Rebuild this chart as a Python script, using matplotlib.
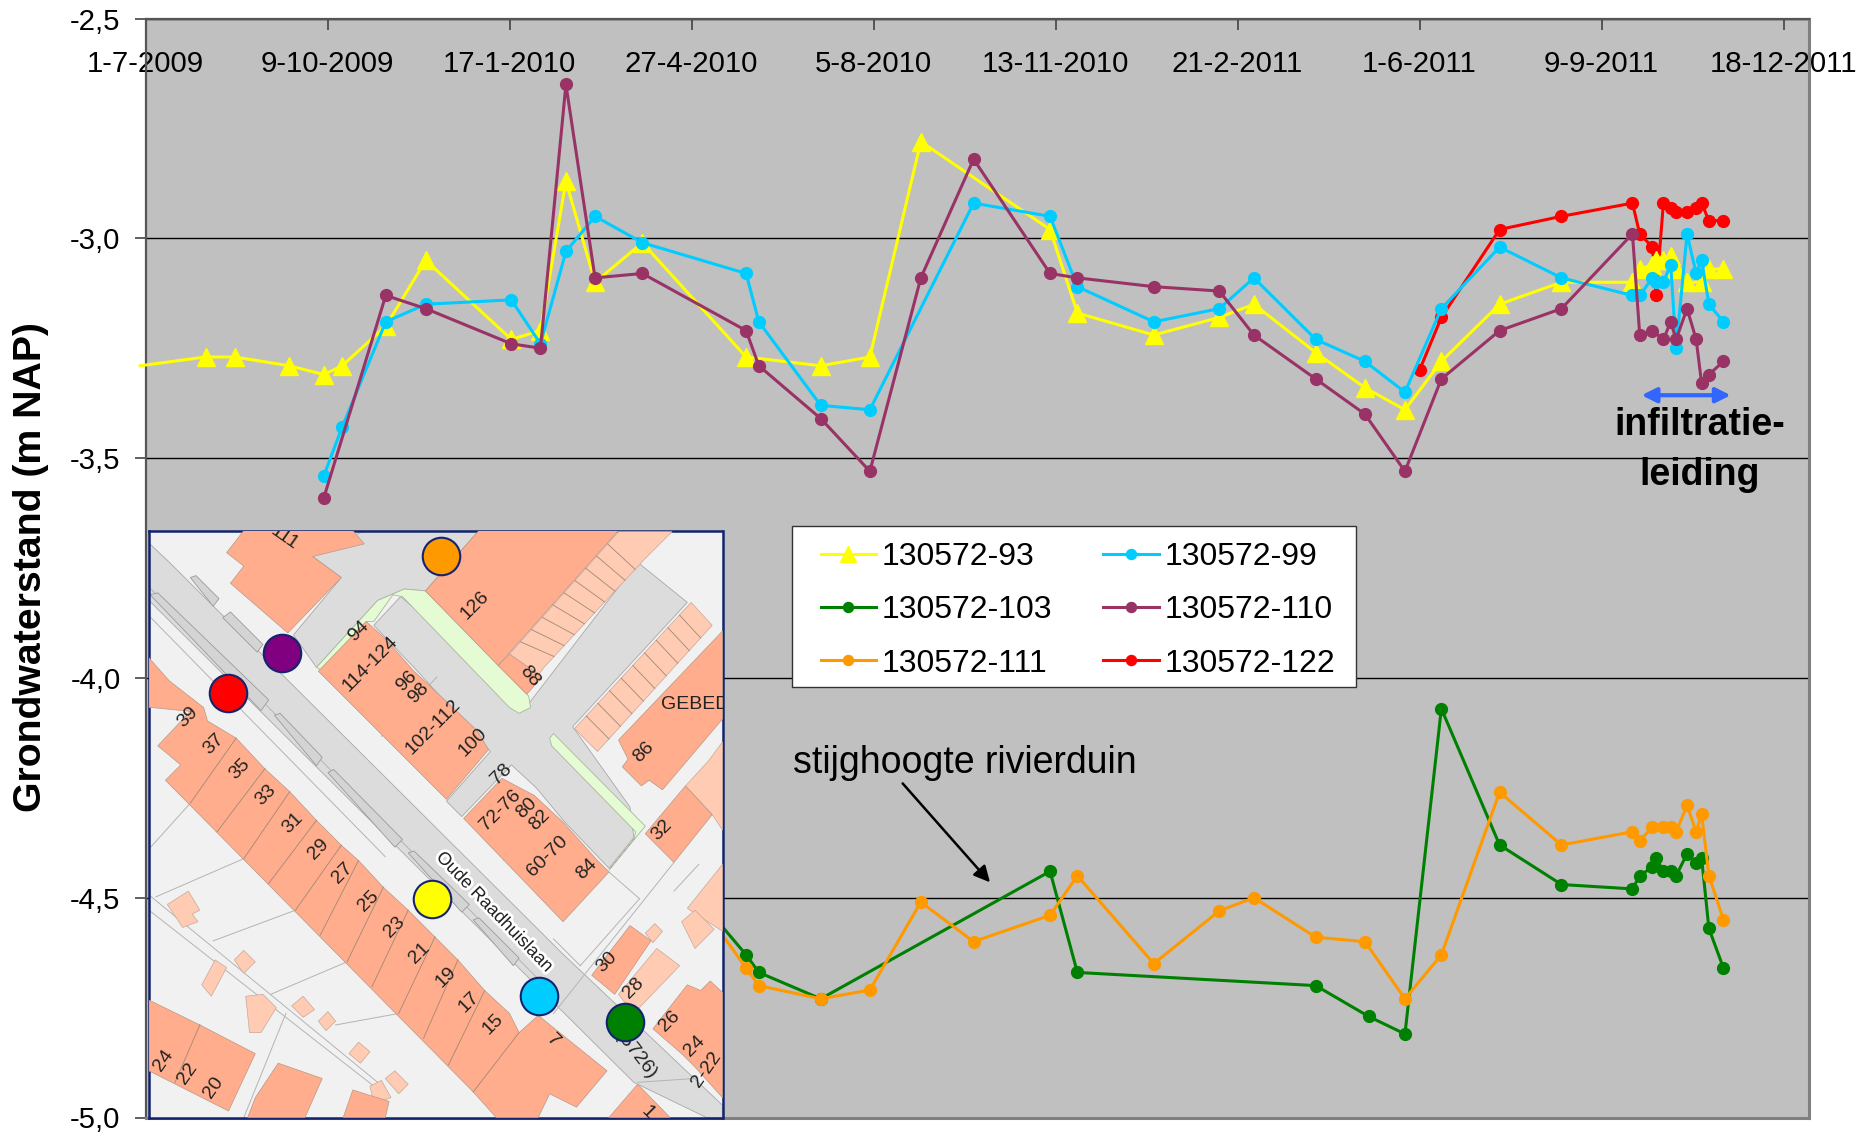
import numpy as np
import matplotlib
matplotlib.use("Agg")
import matplotlib.pyplot as plt
import matplotlib.patheffects as pe
from matplotlib.patches import Polygon, Rectangle

plt.rcParams['font.family'] = ['Liberation Sans', 'DejaVu Sans']

# meetreeksen: dagen na 1-7-2009 en grondwaterstand (m NAP)
dag_93 = [-3, 33, 49, 79, 98, 108, 132, 154, 201, 217, 231, 247, 273, 330, 371, 398, 426, 497, 512, 554, 590, 609, 643, 670, 692, 712, 744, 778, 817, 821, 828, 830, 834, 838, 841, 847, 855, 859, 867]
nap_93 = [-3.29, -3.27, -3.27, -3.29, -3.31, -3.29, -3.20, -3.05, -3.23, -3.21, -2.87, -3.10, -3.01, -3.27, -3.29, -3.27, -2.78, -2.98, -3.17, -3.22, -3.18, -3.15, -3.26, -3.34, -3.39, -3.28, -3.15, -3.10, -3.10, -3.07, -3.06, -3.05, -3.05, -3.04, -3.07, -3.10, -3.10, -3.07, -3.07]

dag_99 = [98, 108, 132, 154, 201, 217, 231, 247, 273, 330, 337, 371, 398, 455, 497, 512, 554, 590, 609, 643, 670, 692, 712, 744, 778, 817, 821, 828, 830, 834, 838, 841, 847, 852, 855, 859, 867]
nap_99 = [-3.54, -3.43, -3.19, -3.15, -3.14, -3.24, -3.03, -2.95, -3.01, -3.08, -3.19, -3.38, -3.39, -2.92, -2.95, -3.11, -3.19, -3.16, -3.09, -3.23, -3.28, -3.35, -3.16, -3.02, -3.09, -3.13, -3.13, -3.09, -3.10, -3.10, -3.06, -3.25, -2.99, -3.08, -3.05, -3.15, -3.19]

dag_103 = [273, 330, 337, 371, 497, 512, 643, 672, 692, 712, 744, 778, 817, 821, 828, 830, 834, 838, 841, 847, 852, 855, 859, 867]
nap_103 = [-4.35, -4.63, -4.67, -4.73, -4.44, -4.67, -4.70, -4.77, -4.81, -4.07, -4.38, -4.47, -4.48, -4.45, -4.43, -4.41, -4.44, -4.44, -4.45, -4.40, -4.42, -4.41, -4.57, -4.66]

dag_110 = [98, 132, 154, 201, 217, 231, 247, 273, 330, 337, 371, 398, 426, 455, 497, 512, 554, 590, 609, 643, 670, 692, 712, 744, 778, 817, 821, 828, 834, 838, 841, 847, 852, 855, 859, 867]
nap_110 = [-3.59, -3.13, -3.16, -3.24, -3.25, -2.65, -3.09, -3.08, -3.21, -3.29, -3.41, -3.53, -3.09, -2.82, -3.08, -3.09, -3.11, -3.12, -3.22, -3.32, -3.40, -3.53, -3.32, -3.21, -3.16, -2.99, -3.22, -3.21, -3.23, -3.19, -3.23, -3.16, -3.23, -3.33, -3.31, -3.28]

dag_111 = [273, 330, 337, 371, 398, 426, 455, 497, 512, 554, 590, 609, 643, 670, 692, 712, 744, 778, 817, 821, 828, 834, 838, 841, 847, 852, 855, 859, 867]
nap_111 = [-4.33, -4.66, -4.70, -4.73, -4.71, -4.51, -4.60, -4.54, -4.45, -4.65, -4.53, -4.50, -4.59, -4.60, -4.73, -4.63, -4.26, -4.38, -4.35, -4.37, -4.34, -4.34, -4.34, -4.35, -4.29, -4.35, -4.31, -4.45, -4.55]

dag_122 = [700, 712, 744, 778, 817, 821, 828, 830, 834, 838, 841, 847, 852, 855, 859, 867]
nap_122 = [-3.30, -3.18, -2.98, -2.95, -2.92, -2.99, -3.02, -3.13, -2.92, -2.93, -2.94, -2.94, -2.93, -2.92, -2.96, -2.96]

x_ticks = [0, 100, 200, 300, 400, 500, 600, 700, 800, 900]
x_labels = ['1-7-2009', '9-10-2009', '17-1-2010', '27-4-2010', '5-8-2010', '13-11-2010', '21-2-2011', '1-6-2011', '9-9-2011', '18-12-2011']
y_ticks = [-2.5, -3.0, -3.5, -4.0, -4.5, -5.0]
y_labels = ['-2,5', '-3,0', '-3,5', '-4,0', '-4,5', '-5,0']

# kaart (plaatje in de grafiek): coordinaten in pixels van de kaart
kaart_wegen = [
    [(22, 60), (75, 110), (1105, 1135), (1522, 1530), (1522, 1562), (1480, 1562), (1290, 1470), (22, 210)],
    [(585, 27), (885, 27), (745, 185), (690, 180), (620, 210), (460, 385), (400, 300), (525, 150), (450, 95)],
    [(680, 200), (1015, 480), (1300, 110), (1430, 215), (1130, 540), (1280, 750), (1290, 830), (1225, 910), (1110, 790), (1035, 700), (970, 640), (840, 775), (800, 735), (915, 605), (715, 385), (610, 275)],
]
kaart_parkeer = [
    [(25, 195), (45, 190), (335, 470), (315, 498)],
    [(130, 150), (145, 145), (205, 205), (190, 225)],
    [(215, 255), (235, 240), (320, 325), (305, 345)],
    [(350, 510), (365, 505), (475, 620), (460, 642)],
    [(490, 660), (505, 652), (685, 835), (665, 855)],
    [(700, 870), (715, 865), (860, 1005), (840, 1025)],
    [(870, 1045), (885, 1040), (990, 1145), (975, 1165)],
]
kaart_groen = [
    [(460, 385), (620, 210), (690, 180), (745, 185), (1015, 460), (1020, 490), (990, 505), (965, 490), (685, 200), (660, 195), (610, 265), (590, 265), (480, 395)],
    [(1080, 558), (1320, 800), (1225, 915), (1290, 835), (1295, 815), (1075, 590), (1070, 570)],
]
kaart_huizen = [
    [(270, 27), (555, 27), (585, 62), (450, 95), (525, 150), (385, 295), (235, 165), (270, 120), (225, 85)],
    [(885, 27), (1250, 27), (935, 380), (745, 185)],
    [(965, 350), (935, 380), (1010, 455), (1050, 410)],
    [(1250, 575), (1522, 290), (1522, 520), (1365, 705), (1330, 680), (1310, 695), (1260, 645), (1275, 625)],
    [(1320, 820), (1425, 695), (1495, 770), (1395, 895)],
    [(465, 395), (590, 265), (640, 310), (715, 395), (790, 465), (880, 550), (910, 600), (800, 730)],
    [(845, 780), (945, 675), (1030, 720), (1105, 790), (1195, 890), (1225, 920), (1105, 1050)],
    [(1180, 1190), (1280, 1060), (1335, 1100), (1240, 1240)],
    [(1340, 1330), (1430, 1215), (1465, 1230), (1490, 1205), (1522, 1235), (1522, 1510), (1450, 1430), (1415, 1395)],
    [(22, 360), (75, 420), (165, 490), (175, 525), (250, 570), (325, 650), (390, 710), (460, 785), (525, 850), (570, 890), (635, 960), (700, 1020), (770, 1090), (830, 1150), (900, 1230), (965, 1290), (990, 1340), (1040, 1295), (1220, 1440), (1140, 1535), (1070, 1500), (1040, 1562), (930, 1562), (870, 1495), (65, 680), (105, 640), (45, 590), (130, 500), (30, 490), (22, 490)],
    [(22, 1255), (155, 1320), (300, 1395), (230, 1545), (22, 1440)],
    [(280, 1562), (300, 1510), (360, 1420), (475, 1460), (430, 1562)],
    [(530, 1562), (555, 1490), (650, 1520), (640, 1562)],
    [(1225, 1562), (1300, 1475), (1385, 1562)],
]
kaart_licht = [
    [(965, 350), (1250, 30), (1390, 30), (1320, 100), (1055, 385), (1015, 440)],
    [(1135, 545), (1440, 215), (1495, 275), (1195, 605)],
    [(1425, 695), (1485, 630), (1522, 580), (1522, 810), (1495, 770)],
    [(1430, 1015), (1522, 900), (1522, 1075)],
    [(1415, 1050), (1450, 1020), (1500, 1070), (1450, 1120)],
    [(1250, 1240), (1350, 1120), (1410, 1165), (1290, 1290)],
    [(1320, 1080), (1345, 1055), (1365, 1075), (1340, 1105)],
    [(70, 1005), (125, 970), (155, 1020), (135, 1030), (150, 1050), (110, 1065)],
    [(160, 1215), (195, 1150), (225, 1170), (185, 1245)],
    [(245, 1150), (270, 1125), (300, 1155), (270, 1185)],
    [(275, 1245), (320, 1240), (355, 1275), (315, 1340), (285, 1340)],
    [(395, 1270), (425, 1245), (455, 1280), (425, 1300)],
    [(465, 1310), (490, 1285), (510, 1310), (485, 1335)],
    [(545, 1395), (570, 1365), (600, 1390), (575, 1420)],
    [(640, 1460), (665, 1440), (700, 1475), (675, 1500)],
    [(600, 1480), (630, 1465), (655, 1510), (610, 1525)],
]
kaart_lijnen = [
    [(22, 980), (620, 1470)], [(22, 1020), (610, 1480)], [(380, 1290), (270, 1562)],
    [(22, 250), (640, 880)], [(22, 175), (1090, 1250)], [(1080, 1095), (1150, 1165)],
    [(1305, 990), (1150, 1165)], [(1225, 920), (1305, 990)], [(1395, 895), (1080, 1290)],
    [(22, 860), (130, 740)], [(40, 985), (270, 885)], [(190, 1100), (405, 1020)],
    [(340, 1240), (540, 1155)], [(510, 1320), (675, 1290)], [(630, 565), (775, 410)],
    [(950, 890), (1030, 800)], [(1460, 900), (1395, 970)], [(1300, 1470), (1450, 1460)],
    [(130, 740), (250, 570)], [(200, 815), (325, 650)], [(270, 885), (390, 710)],
    [(335, 950), (460, 785)], [(405, 1020), (525, 850)], [(470, 1085), (570, 890)],
    [(540, 1155), (635, 960)], [(605, 1220), (700, 1020)], [(675, 1290), (770, 1090)],
    [(740, 1355), (830, 1150)], [(805, 1425), (900, 1230)], [(870, 1495), (990, 1340)],
    [(90, 1470), (155, 1320)],
]
kaart_teksten = [
    ('111', 375, 45, -35), ('126', 875, 222, 45), ('94', 570, 290, 45), ('114-124', 600, 375, 45),
    ('96', 697, 422, 45), ('98', 728, 452, 45), ('102-112', 765, 540, 45), ('100', 868, 580, 45),
    ('88', 1018, 408, -50), ('GEBED', 1450, 483, 0), ('86', 1315, 607, 45), ('78', 945, 665, 45),
    ('72-76', 942, 757, 45), ('80', 1010, 752, 45), ('82', 1045, 785, 45), ('60-70', 1063, 878, 45),
    ('84', 1168, 912, 45), ('32', 1362, 810, 45), ('39', 123, 515, 45), ('37', 192, 585, 45),
    ('35', 258, 652, 45), ('33', 328, 720, 45), ('31', 397, 793, 45), ('29', 465, 860, 45),
    ('27', 527, 923, 45), ('25', 595, 995, 45), ('23', 665, 1063, 45), ('21', 730, 1133, 45),
    ('19', 800, 1195, 45), ('17', 860, 1260, 45), ('15', 922, 1317, 45), ('7', 1080, 1360, -45),
    ('30', 1218, 1157, 45), ('28', 1290, 1225, 45), ('26', 1383, 1310, 45), ('24', 1450, 1375, 45),
    ('2-22', 1480, 1435, 55), ('24', 60, 1412, 55), ('22', 122, 1447, 55), ('20', 190, 1483, 55),
    ('1', 1325, 1550, -45), ('(5726)', 1295, 1400, -52),
]
put_x = [787, 370, 229, 762, 1042, 1268]
put_y = [94, 347, 452, 990, 1245, 1313]
put_kleur = ['#FF9900', '#800080', '#FF0000', '#FFFF00', '#00CCFF', '#008000']

fig = plt.figure(figsize=(18.7, 11.34), dpi=100)
ax = fig.add_axes([145.5/1870, (1134-1117.5)/1134, (1809-145.5)/1870, (1117.5-18.5)/1134])
ax.set_facecolor('#C0C0C0')
ax.set_xlim(0, 914)
ax.set_ylim(-5.0, -2.5)

ax.set_yticks(y_ticks)
ax.set_yticklabels(y_labels, fontsize=21.2)
ax.set_xticks(x_ticks)
ax.set_xticklabels(x_labels, fontsize=21.2)
ax.tick_params(axis='y', length=8, width=1.2, color='#444444', pad=10)
ax.tick_params(axis='x', direction='in', top=True, bottom=False, labeltop=True, labelbottom=False,
               length=8, width=1.2, color='#444444', pad=-43)
ax.grid(axis='y', color='black', lw=1)
ax.set_axisbelow(True)
for s in ['top', 'left']:
    ax.spines[s].set_color('#555555')
    ax.spines[s].set_linewidth(1.6)
for s in ['bottom', 'right']:
    ax.spines[s].set_color('#808080')
    ax.spines[s].set_linewidth(2.2)

lw = 2.2
ms = 8.5
l_93, = ax.plot(dag_93, nap_93, color='#FFFF00', lw=lw, marker='^', ms=13, markevery=(1, 1), clip_on=False, zorder=4, label='130572-93')
l_99, = ax.plot(dag_99, nap_99, color='#00CCFF', lw=lw, marker='o', ms=ms, zorder=5, label='130572-99')
l_103, = ax.plot(dag_103, nap_103, color='#008000', lw=lw, marker='o', ms=ms, zorder=3, label='130572-103')
l_110, = ax.plot(dag_110, nap_110, color='#993366', lw=lw, marker='o', ms=ms, zorder=6, label='130572-110')
l_111, = ax.plot(dag_111, nap_111, color='#FF9900', lw=lw, marker='o', ms=ms, zorder=3.5, label='130572-111')
l_122, = ax.plot(dag_122, nap_122, color='#FF0000', lw=lw, marker='o', ms=ms, zorder=3, label='130572-122')

# legenda met eigen kader, de rand is breder dan hoog
ax.add_patch(Rectangle((792/1870, 1-687/1134), 564/1870, 161/1134, transform=fig.transFigure,
                       fc='white', ec='#333333', lw=1, zorder=9))
leg = ax.legend(handles=[l_93, l_103, l_111, l_99, l_110, l_122], ncol=2, fontsize=23,
                loc='upper left', bbox_to_anchor=(820.5/1870, 1-542/1134), bbox_transform=fig.transFigure,
                borderaxespad=0, frameon=False, markerscale=0.85,
                handlelength=1.75, handletextpad=0.15, columnspacing=1.62, labelspacing=0.73, borderpad=0)
leg.set_zorder(10)

ax.text(356, -4.193, 'stijghoogte rivierduin', fontsize=27, va='center', ha='left', zorder=8)
ax.annotate('', xy=(464, -4.465), xytext=(416, -4.24), zorder=8,
            arrowprops=dict(arrowstyle='-|>', color='black', lw=1.8, mutation_scale=24, shrinkA=0, shrinkB=0))
ax.annotate('', xy=(871, -3.357), xytext=(822, -3.357), zorder=8,
            arrowprops=dict(arrowstyle='<|-|>', color='#3366FF', lw=3, mutation_scale=22, shrinkA=0, shrinkB=0))
ax.text(854, -3.424, 'infiltratie-', fontsize=27, fontweight='bold', ha='center', va='center', zorder=8)
ax.text(854, -3.538, 'leiding', fontsize=27, fontweight='bold', ha='center', va='center', zorder=8)

fig.text(31/1870, 1-567/1134, 'Grondwaterstand (m NAP)', fontsize=28.3, fontweight='bold',
         rotation=90, ha='center', va='center')

# de kaart
kaart = fig.add_axes([149/1870, (1134-1117.5)/1134, (722.5-149)/1870, (1117.5-530.5)/1134], zorder=5)
kaart.set_xlim(22, 1522)
kaart.set_ylim(1562, 27)
kaart.set_xticks([])
kaart.set_yticks([])
kaart.set_facecolor('#F1F1F1')
for s in kaart.spines.values():
    s.set_color('#14236E')
    s.set_linewidth(1.8)

for p in kaart_wegen:
    kaart.add_patch(Polygon(p, fc='#DCDCDC', ec='#A8A8A8', lw=0.6, zorder=1))
for p in kaart_parkeer:
    kaart.add_patch(Polygon(p, fc='#D4D4D4', ec='#9A9A9A', lw=0.6, zorder=2))
for p in kaart_groen:
    kaart.add_patch(Polygon(p, fc='#E4FBD4', ec='#A8B8A0', lw=0.6, zorder=2))
for l in kaart_lijnen:
    kaart.plot([l[0][0], l[1][0]], [l[0][1], l[1][1]], color='#B4B4B4', lw=0.7, zorder=1.5)
for p in kaart_licht:
    kaart.add_patch(Polygon(p, fc='#FFCBB2', ec='#C8A898', lw=0.5, zorder=3))
for p in kaart_huizen:
    kaart.add_patch(Polygon(p, fc='#FFAD8C', ec='#B89888', lw=0.5, zorder=3))
for l in kaart_lijnen[18:]:
    kaart.plot([l[0][0], l[1][0]], [l[0][1], l[1][1]], color='#A08878', lw=0.6, zorder=3.5)

# schuurtjes in de twee rijen
for a, b, c, d in [((965, 350), (1250, 30), (1055, 385), (1320, 100)), ((1135, 545), (1440, 215), (1195, 605), (1495, 275))]:
    for t in np.linspace(0.1, 0.9, 9):
        kaart.plot([a[0]+t*(b[0]-a[0]), c[0]+t*(d[0]-c[0])], [a[1]+t*(b[1]-a[1]), c[1]+t*(d[1]-c[1])], color='#A08878', lw=0.6, zorder=3.5)

for tekst, x, y, rot in kaart_teksten:
    kaart.text(x, y, tekst, fontsize=14, rotation=rot, ha='center', va='center', color='#222222',
               rotation_mode='anchor', clip_on=True, zorder=4)
kaart.text(925, 1025, 'Oude Raadhuislaan', fontsize=13, rotation=-46, ha='center', va='center', color='#222222',
           rotation_mode='anchor', zorder=4, path_effects=[pe.withStroke(linewidth=4, foreground='white')])

for i in range(len(put_x)):
    kaart.plot(put_x[i], put_y[i], 'o', ms=27, mfc=put_kleur[i], mec='#14236E', mew=1.5, zorder=6)

fig.savefig('out.png', dpi=100)
